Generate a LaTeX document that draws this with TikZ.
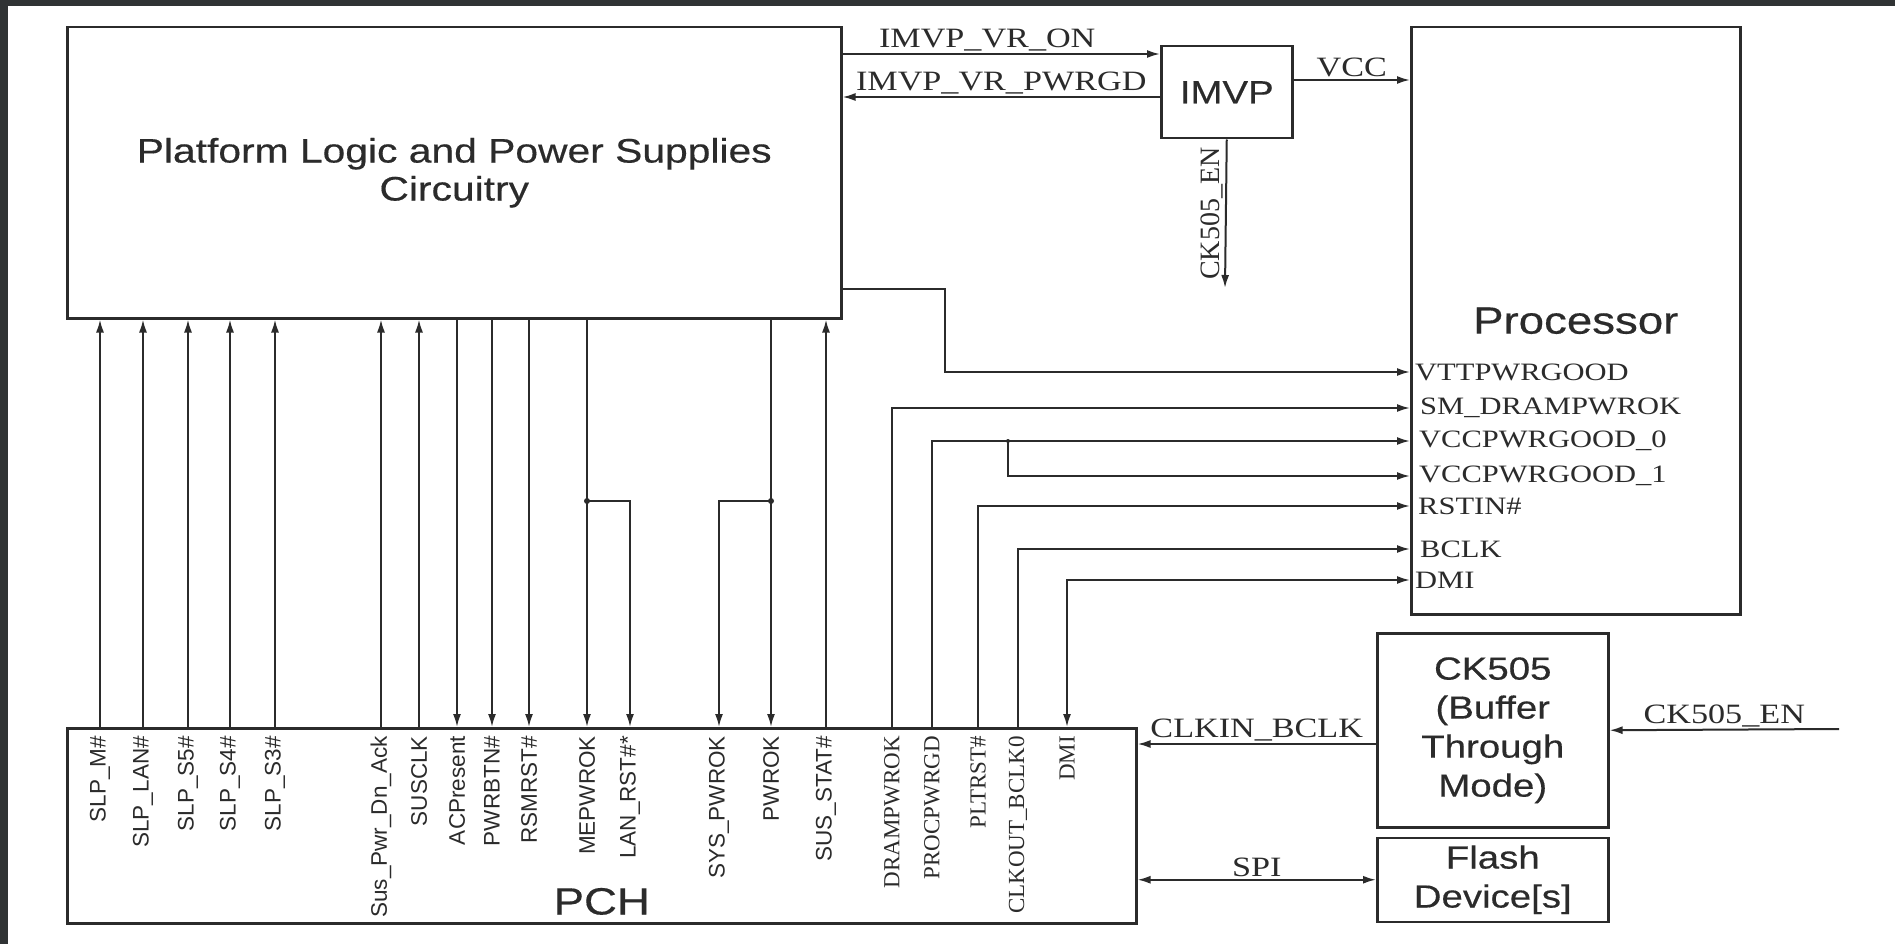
\documentclass[tikz,border=0pt]{standalone}
\usepackage{fontspec}
\setmainfont{Liberation Serif}
\newfontfamily\boxfont[FakeStretch=1.2, FakeBold=0.4]{Liberation Sans}
\newfontfamily\pinfont{Liberation Sans}
\newfontfamily\sigfont[FakeStretch=1.22]{Liberation Serif}
\usetikzlibrary{positioning, arrows.meta}
\definecolor{frame}{HTML}{303334}
\definecolor{ink}{HTML}{2B2B2B}

\begin{document}
\begin{tikzpicture}[
  x=1pt, y=-1pt,
  blk/.style={rectangle, draw=ink, line width=2.5pt, inner sep=0pt,
              anchor=north west, align=center, text=ink,
              font=\boxfont\fontsize{32}{39}\selectfont},
  bigblk/.style={blk, font=\boxfont\fontsize{38}{44}\selectfont},
  title/.style={text=ink, inner sep=0pt, font=\boxfont\fontsize{38}{44}\selectfont},
  wire/.style={draw=ink, line width=2pt},
  arr/.style={wire, -{Latex[length=13pt, width=8pt]}},
  darr/.style={wire, {Latex[length=13pt, width=8pt]}-{Latex[length=13pt, width=8pt]}},
  sig/.style={text=ink, inner sep=2pt, font=\sigfont\fontsize{28}{30}\selectfont},
  pinr/.style={anchor=west, inner sep=0pt, text=ink, font=\sigfont\fontsize{25}{27}\selectfont},
  pina/.style={rotate=90, anchor=east, inner sep=0pt, text=ink, font=\pinfont\fontsize{22.5}{24}\selectfont},
  pinb/.style={pina, font=\rmfamily\fontsize{23}{25}\selectfont},
  jn/.style={fill=ink}
]
  % screen frame
  \fill[frame] (0,0) rectangle (1895,944);
  \fill[white] (8,6) rectangle (1895,944);
  \useasboundingbox (0,0) rectangle (1895,944);

  % blocks
  \node[blk, minimum width=774pt, minimum height=291pt, font=\boxfont\fontsize{34}{38}\selectfont] (plat) at (66,26) {Platform Logic and Power Supplies\\Circuitry};
  \node[blk, minimum width=131pt, minimum height=92pt] (imvp) at (1160,45) {IMVP};
  \node[bigblk, minimum width=329pt, minimum height=587pt] (proc) at (1410,26) {Processor};
  \node[bigblk, minimum width=1069pt, minimum height=195pt] (pch) at (66,727) {};
  \node[title, anchor=base] (pchlbl) at ([yshift=10pt]pch.south) {PCH};
  \node[blk, minimum width=231pt, minimum height=194pt] (ck) at (1376,632) {CK505\\(Buffer\\Through\\Mode)};
  \node[blk, below=8pt of ck, minimum width=231pt, minimum height=84pt] (flash) {Flash\\Device[s]};

  % processor pins
  \node[pinr] (vtt) at (1415,372) {VTTPWRGOOD};
  \node[pinr] (smdram) at (1420,408) {SM\_DRAMPWROK};
  \node[pinr] (vcc0) at (1419,441) {VCCPWRGOOD\_0};
  \node[pinr] (vcc1) at (1419,476) {VCCPWRGOOD\_1};
  \node[pinr] (rstin) at (1418,506) {RSTIN\#};
  \node[pinr] (bclk) at (1420,549) {BCLK};
  \node[pinr] (dmi) at (1415,580) {DMI};

  % pch pins
  \node[pina] (slpm) at (100,736) {SLP\_M\#};
  \node[pina] (slplan) at (143,736) {SLP\_LAN\#};
  \node[pina] (slps5) at (188,736) {SLP\_S5\#};
  \node[pina] (slps4) at (230,736) {SLP\_S4\#};
  \node[pina] (slps3) at (275,736) {SLP\_S3\#};
  \node[pina] (susack) at (381,736) {Sus\_Pwr\_Dn\_Ack};
  \node[pina] (susclk) at (419,736) {SUSCLK};
  \node[pina] (acp) at (457,736) {ACPresent};
  \node[pina] (pwrbtn) at (492,736) {PWRBTN\#};
  \node[pina] (rsmrst) at (529,736) {RSMRST\#};
  \node[pina] (mepwrok) at (587,736) {MEPWROK};
  \node[pina] (lanrst) at (630,736) {LAN\_RST\#*};
  \node[pina] (syspwrok) at (719,736) {SYS\_PWROK};
  \node[pina] (pwrok) at (771,736) {PWROK};
  \node[pina] (susstat) at (826,736) {SUS\_STAT\#};
  \node[pinb] (drampwrok) at (892,736) {DRAMPWROK};
  \node[pinb] (procpwrgd) at (932,736) {PROCPWRGD};
  \node[pinb] (pltrst) at (978,736) {PLTRST\#};
  \node[pinb] (clkout) at (1018,736) {CLKOUT\_BCLK0};
  \node[pinb] (dmipch) at (1067,736) {DMI};

  % IMVP signals
  \draw[arr] (plat.east |- 0,54) -- node[sig, above, xshift=-14pt] {IMVP\_VR\_ON} (imvp.west |- 0,54);
  \draw[arr] (imvp.west |- 0,97) -- node[sig, above] {IMVP\_VR\_PWRGD} (plat.east |- 0,97);
  \draw[arr] (imvp.east |- 0,80) -- node[sig, above] {VCC} (proc.west |- 0,80);
  \coordinate (ckenout) at (1225,288);
  \draw[arr] (imvp.south) -- node[sig, rotate=90, anchor=south, font=\rmfamily\fontsize{28}{30}\selectfont] {CK505\_EN} (ckenout);

  % platform to processor
  \coordinate (vttbend) at (945,289);
  \draw[arr] (plat.east |- vttbend) -- (vttbend) |- (proc.west |- vtt);

  % pch to platform
  \draw[arr] (pch.north -| slpm) -- (plat.south -| slpm);
  \draw[arr] (pch.north -| slplan) -- (plat.south -| slplan);
  \draw[arr] (pch.north -| slps5) -- (plat.south -| slps5);
  \draw[arr] (pch.north -| slps4) -- (plat.south -| slps4);
  \draw[arr] (pch.north -| slps3) -- (plat.south -| slps3);
  \draw[arr] (pch.north -| susack) -- (plat.south -| susack);
  \draw[arr] (pch.north -| susclk) -- (plat.south -| susclk);
  \draw[arr] (pch.north -| susstat) -- (plat.south -| susstat);

  % platform to pch
  \draw[arr] (plat.south -| acp) -- (pch.north -| acp);
  \draw[arr] (plat.south -| pwrbtn) -- (pch.north -| pwrbtn);
  \draw[arr] (plat.south -| rsmrst) -- (pch.north -| rsmrst);
  \draw[arr] (plat.south -| mepwrok) -- (pch.north -| mepwrok);
  \coordinate (mejn) at (mepwrok |- 0,501);
  \draw[arr] (mejn) -| (pch.north -| lanrst);
  \draw[arr] (plat.south -| pwrok) -- (pch.north -| pwrok);
  \coordinate (pwjn) at (pwrok |- 0,501);
  \draw[arr] (pwjn) -| (pch.north -| syspwrok);
  \fill[jn] (mejn) circle (3pt);
  \fill[jn] (pwjn) circle (3pt);

  % pch to processor
  \draw[arr] (pch.north -| drampwrok) |- (proc.west |- smdram);
  \draw[arr] (pch.north -| procpwrgd) |- (proc.west |- vcc0);
  \coordinate (vccjn) at (1008,441);
  \draw[arr] (vccjn) |- (proc.west |- vcc1);
  \fill[jn] (vccjn) circle (2pt);
  \draw[arr] (pch.north -| pltrst) |- (proc.west |- rstin);
  \draw[arr] (pch.north -| clkout) |- (proc.west |- bclk);
  \draw[darr] (pch.north -| dmipch) |- (proc.west |- dmi);

  % clock and flash
  \coordinate (ckenin) at (1839,729);
  \draw[arr] (ckenin) -- node[sig, above] {CK505\_EN} (ck.east);
  \draw[arr] (ck.west |- 0,744) -- node[sig, above] {CLKIN\_BCLK} (pch.east |- 0,744);
  \draw[darr] (pch.east |- flash.west) -- node[sig, above] {SPI} (flash.west);
\end{tikzpicture}
\end{document}
